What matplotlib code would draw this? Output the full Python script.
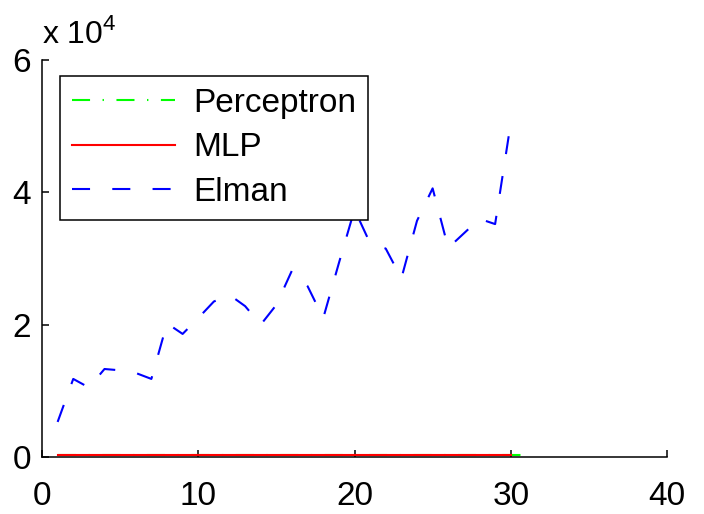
import matplotlib
matplotlib.use('Agg')
import matplotlib.pyplot as plt
from matplotlib.ticker import FuncFormatter

plt.rcParams['font.family'] = ['Liberation Sans', 'DejaVu Sans']
plt.rcParams['mathtext.fontset'] = 'custom'
plt.rcParams['mathtext.rm'] = 'Liberation Sans'
plt.rcParams['lines.scale_dashes'] = False

# epochs / iterations
x_perceptron = list(range(1, 32))
x_mlp = list(range(1, 31))
x_elman = list(range(1, 31))

perceptron = [300, 300, 300, 300, 300, 300, 300, 300, 300, 300,
              300, 300, 300, 300, 300, 300, 300, 300, 300, 300,
              300, 300, 300, 300, 300, 300, 300, 300, 300, 300, 300]
mlp = [300, 300, 300, 300, 300, 300, 300, 300, 300, 300,
       300, 300, 300, 300, 300, 300, 300, 300, 300, 300,
       300, 300, 300, 300, 300, 300, 300, 300, 300, 300]
elman = [5300, 11800, 10500, 13300, 13100, 12700, 11800, 20200, 18600, 21000,
         23500, 24500, 22800, 20000, 23000, 28200, 25800, 21000, 29300, 37400,
         32300, 31500, 27000, 35700, 40600, 31600, 33800, 36000, 35200, 50500]

fig = plt.figure(figsize=(7.04, 5.14), dpi=100)
ax = fig.add_axes([42 / 704, 1 - 457 / 514, 625 / 704, 397 / 514])

ax.plot(x_perceptron, perceptron, color=(0, 1, 0), lw=1.5,
        dashes=(13, 9, 1, 9), label='Perceptron')
ax.plot(x_mlp, mlp, color=(1, 0, 0), lw=1.5, label='MLP')
ax.plot(x_elman, elman, color=(0, 0, 1), lw=1.5, dashes=(13, 16), label='Elman')

ax.set_xlim(0, 40)
ax.set_ylim(0, 60000)
ax.set_xticks([0, 10, 20, 30, 40])
ax.set_yticks([0, 20000, 40000, 60000])
ax.yaxis.set_major_formatter(FuncFormatter(lambda v, p: f'{v / 1e4:g}'))

for s in ['top', 'right']:
    ax.spines[s].set_visible(False)
for s in ['left', 'bottom']:
    ax.spines[s].set_linewidth(1.1)
ax.tick_params(direction='in', length=5, width=1.1, labelsize=24)
ax.tick_params(axis='x', pad=17)
ax.tick_params(axis='y', pad=8)

ax.text(0, 1.025, 'x 10$^4$', transform=ax.transAxes, fontsize=23,
        ha='left', va='bottom')

leg = ax.legend(loc='upper left', bbox_to_anchor=(18 / 625, 1 - 16 / 397),
                borderaxespad=0, fontsize=24, fancybox=False, framealpha=1,
                edgecolor='black', handlelength=3.1, handletextpad=0.55,
                labelspacing=0.41, borderpad=0.35)
leg.get_frame().set_linewidth(1.1)

fig.savefig('out.png', dpi=100)
